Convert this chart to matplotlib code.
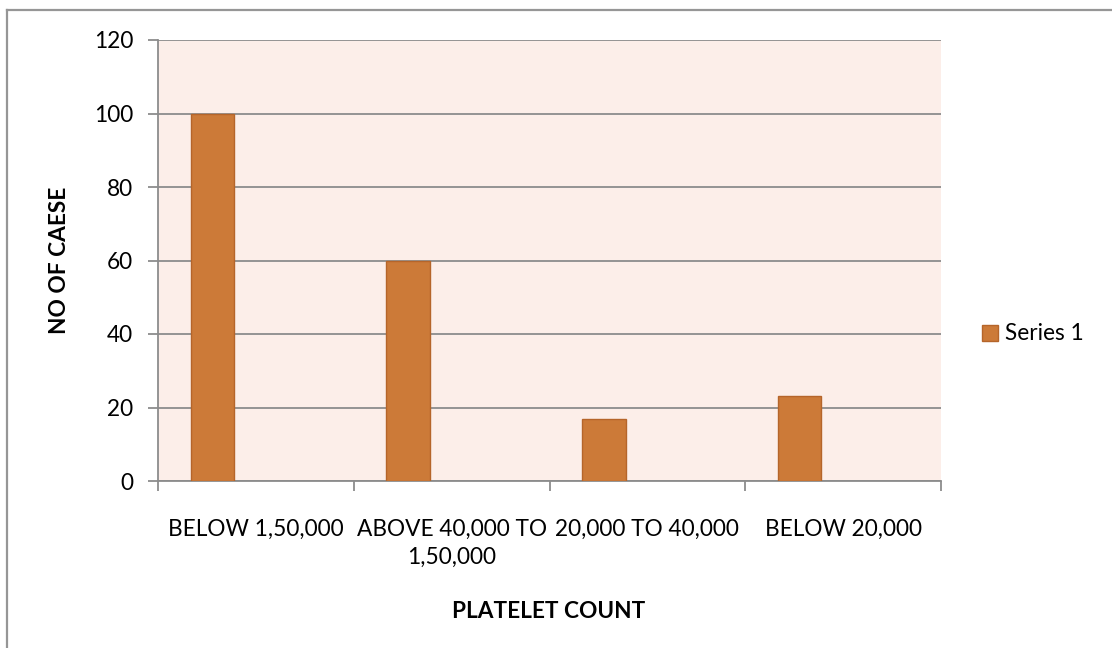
import matplotlib
matplotlib.use("Agg")
import matplotlib.pyplot as plt
from matplotlib.lines import Line2D
from matplotlib.patches import Patch

categories = ["BELOW 1,50,000", "ABOVE 40,000 TO\n1,50,000", "20,000 TO 40,000", "BELOW 20,000"]
series_1 = [100, 60, 17, 23]
y_ticks = [0, 20, 40, 60, 80, 100, 120]

plt.rcParams["font.family"] = ["Lato", "DejaVu Sans"]

W, H = 1112, 648
FS = 16.3
fig = plt.figure(figsize=(W / 100, H / 100), dpi=100)
fig.patch.set_facecolor("white")

# outer chart frame (top and left edges visible)
fig.add_artist(Line2D([7 / W, 7 / W], [0, 1 - 10 / H], transform=fig.transFigure,
                      color="#969696", lw=1.6))
fig.add_artist(Line2D([7 / W, 1], [1 - 10 / H, 1 - 10 / H], transform=fig.transFigure,
                      color="#969696", lw=1.6))

ax = fig.add_axes([158 / W, 1 - 481 / H, (941 - 158) / W, (481 - 40) / H])
ax.set_facecolor("#FCEEE9")

n = len(categories)
bar_w = 1 / 4.5
centers = [i - 0.5 + 1.25 / 4.5 for i in range(n)]
ax.bar(centers, series_1, width=bar_w, color="#CC7A38", edgecolor="#B5652A",
       linewidth=1.0, zorder=3, label="Series 1")

ax.set_xlim(-0.5, n - 0.5)
ax.set_ylim(0, 120)
ax.set_yticks(y_ticks)
ax.yaxis.grid(True, color="#8C8C8C", lw=1.3, zorder=1)
ax.set_axisbelow(True)

ax.set_xticks([i - 0.5 for i in range(n + 1)])
ax.set_xticklabels([])
ax.set_xticks(range(n), minor=True)
ax.set_xticklabels(categories, minor=True, fontsize=FS, linespacing=1.45)
ax.tick_params(axis="x", which="minor", length=0, pad=27)
ax.tick_params(axis="x", which="major", length=7, width=1.3, color="#8C8C8C")
ax.tick_params(axis="y", length=7, width=1.3, color="#8C8C8C", labelsize=FS, pad=11)

for s in ["top", "right"]:
    ax.spines[s].set_visible(False)
for s in ["left", "bottom"]:
    ax.spines[s].set_color("#8C8C8C")
    ax.spines[s].set_linewidth(1.3)

fig.text(549 / W, 1 - 612 / H, "PLATELET COUNT", ha="center", va="center",
         fontsize=FS, fontweight="bold")
fig.text(60 / W, 1 - 260 / H, "NO OF CAESE", ha="center", va="center",
         rotation=90, fontsize=FS, fontweight="bold")

handles = [Patch(facecolor="#CC7A38", edgecolor="#B5652A", lw=1.0)]
fig.legend(handles, ["Series 1"], loc="center left", bbox_to_anchor=(973 / W, 1 - 334 / H),
           frameon=False, fontsize=FS, handlelength=0.7, handleheight=0.7,
           handletextpad=0.3, borderaxespad=0)

fig.savefig("out.png", dpi=100)
